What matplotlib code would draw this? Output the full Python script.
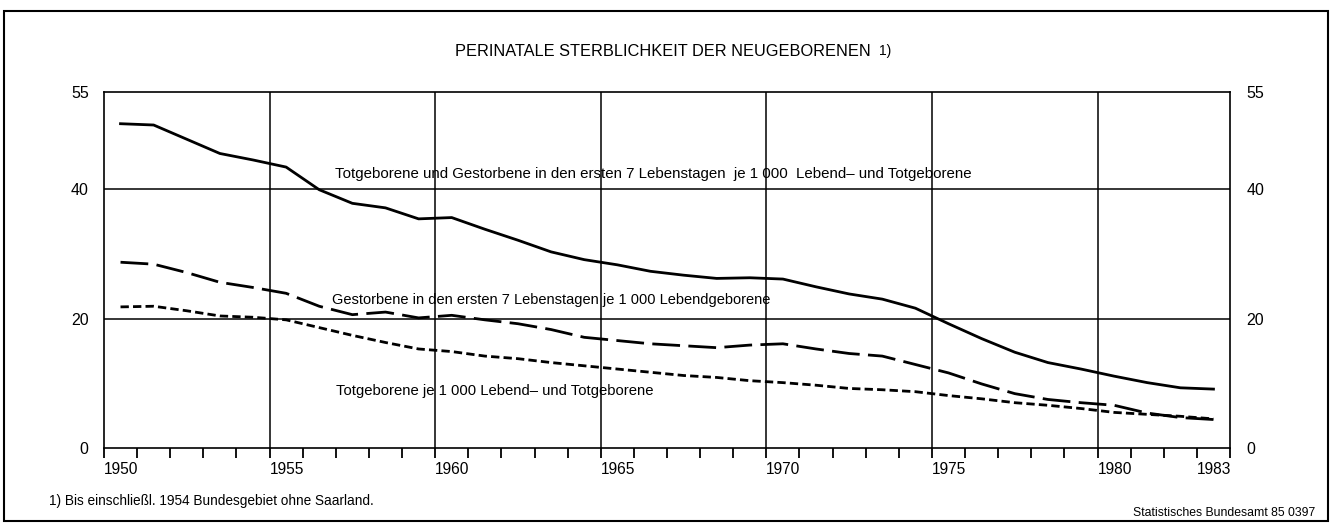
import numpy as np
import matplotlib
matplotlib.use('Agg')
import matplotlib.pyplot as plt
from matplotlib.patches import Rectangle

# values (per 1000), one point per year
years = list(range(1950, 1984))
perinatal = [50.1, 49.9, 47.7, 45.5, 44.5, 43.4, 39.9, 37.8, 37.1, 35.4,
             35.6, 33.8, 32.1, 30.3, 29.1, 28.3, 27.3, 26.7, 26.2, 26.3,
             26.1, 24.9, 23.8, 23.0, 21.6, 19.2, 16.9, 14.8, 13.2, 12.2,
             11.1, 10.1, 9.3, 9.1]
early_neonatal = [28.7, 28.4, 27.1, 25.6, 24.8, 23.9, 21.9, 20.6, 21.0, 20.1,
                  20.5, 19.8, 19.2, 18.3, 17.1, 16.6, 16.1, 15.8, 15.5, 15.9,
                  16.1, 15.3, 14.6, 14.2, 12.9, 11.6, 9.9, 8.4, 7.5, 7.0,
                  6.6, 5.4, 4.7, 4.4]
stillbirths = [21.8, 21.9, 21.2, 20.4, 20.2, 19.8, 18.6, 17.4, 16.3, 15.3,
               14.9, 14.2, 13.8, 13.2, 12.7, 12.2, 11.7, 11.2, 10.9, 10.4,
               10.1, 9.7, 9.2, 9.0, 8.7, 8.1, 7.6, 7.0, 6.6, 6.1,
               5.5, 5.2, 4.9, 4.5]

series_labels = [
    'Totgeborene und Gestorbene in den ersten 7 Lebenstagen  je 1 000  Lebend\u2013 und Totgeborene',
    'Gestorbene in den ersten 7 Lebenstagen je 1 000 Lebendgeborene',
    'Totgeborene je 1 000 Lebend\u2013 und Totgeborene',
]
label_pos = [(1956.97, 41.7), (1956.88, 22.2), (1957.0, 8.25)]
label_sizes = [10.8, 10.5, 10.7]

x_labels = [1950, 1955, 1960, 1965, 1970, 1975, 1980, 1983]
grid_years = [1955, 1960, 1965, 1970, 1975, 1980]
y_ticks = [0, 20, 40, 55]
grid_values = [20, 40]

title = 'PERINATALE STERBLICHKEIT DER NEUGEBORENEN'
footnote = '1) Bis einschlie\u00dfl. 1954 Bundesgebiet ohne Saarland.'
source = 'Statistisches Bundesamt 85 0397'

plt.rcParams['lines.scale_dashes'] = False
plt.rcParams['font.family'] = ['Liberation Sans', 'DejaVu Sans']

fig = plt.figure(figsize=(13.38, 5.23), dpi=100)
ax = fig.add_axes([0.0777, 0.1434, 0.9193 - 0.0777, 0.8241 - 0.1434])

x = np.array(years) + 0.5
ax.plot(x, perinatal, color='black', lw=2.0, solid_joinstyle='round')
ax.plot(x, early_neonatal, color='black', lw=2.0, dashes=(20, 6))
ax.plot(x, stillbirths, color='black', lw=2.0, dashes=(6, 3))

for yr in grid_years:
    ax.axvline(yr, color='black', lw=1.1, zorder=0)
for v in grid_values:
    ax.axhline(v, color='black', lw=1.1, zorder=0)

for txt, (tx, ty), fs in zip(series_labels, label_pos, label_sizes):
    ax.text(tx, ty, txt, fontsize=fs, ha='left', va='baseline')

ax.set_xlim(1950, 1984)
ax.set_ylim(0, 55)
for s in ax.spines.values():
    s.set_linewidth(1.2)

ax.set_xticks(x_labels)
ax.set_xticklabels([str(v) for v in x_labels], ha='left', fontsize=11.2)
ax.set_xticks(range(1950, 1985), minor=True)
ax.tick_params(axis='x', which='both', direction='out', length=7, width=1.3, pad=3)

ax.set_yticks(y_ticks)
ax.set_yticklabels([str(v) for v in y_ticks], fontsize=11.5)
ax.tick_params(axis='y', length=0, pad=11)

ax2 = ax.twinx()
ax2.set_ylim(0, 55)
ax2.set_yticks(y_ticks)
ax2.set_yticklabels([str(v) for v in y_ticks], fontsize=11.5)
ax2.tick_params(axis='y', length=0, pad=12)
for s in ax2.spines.values():
    s.set_visible(False)

t = fig.text(0.340, 0.892, title, fontsize=11.75, ha='left', va='baseline')
fig.text(0.0366, 0.0344, footnote, fontsize=9.8, ha='left', va='baseline')
fig.text(0.983, 0.0134, source, fontsize=8.8, ha='right', va='baseline')
ax.annotate('1)', xy=(1, 0), xycoords=t, xytext=(6, 3), textcoords='offset points',
            fontsize=10, ha='left', va='baseline')

fig.add_artist(Rectangle((0.003, 0.0038), 0.9895, 0.975, transform=fig.transFigure,
                         fill=False, lw=1.5, color='black'))

fig.savefig('out.png', dpi=100)
